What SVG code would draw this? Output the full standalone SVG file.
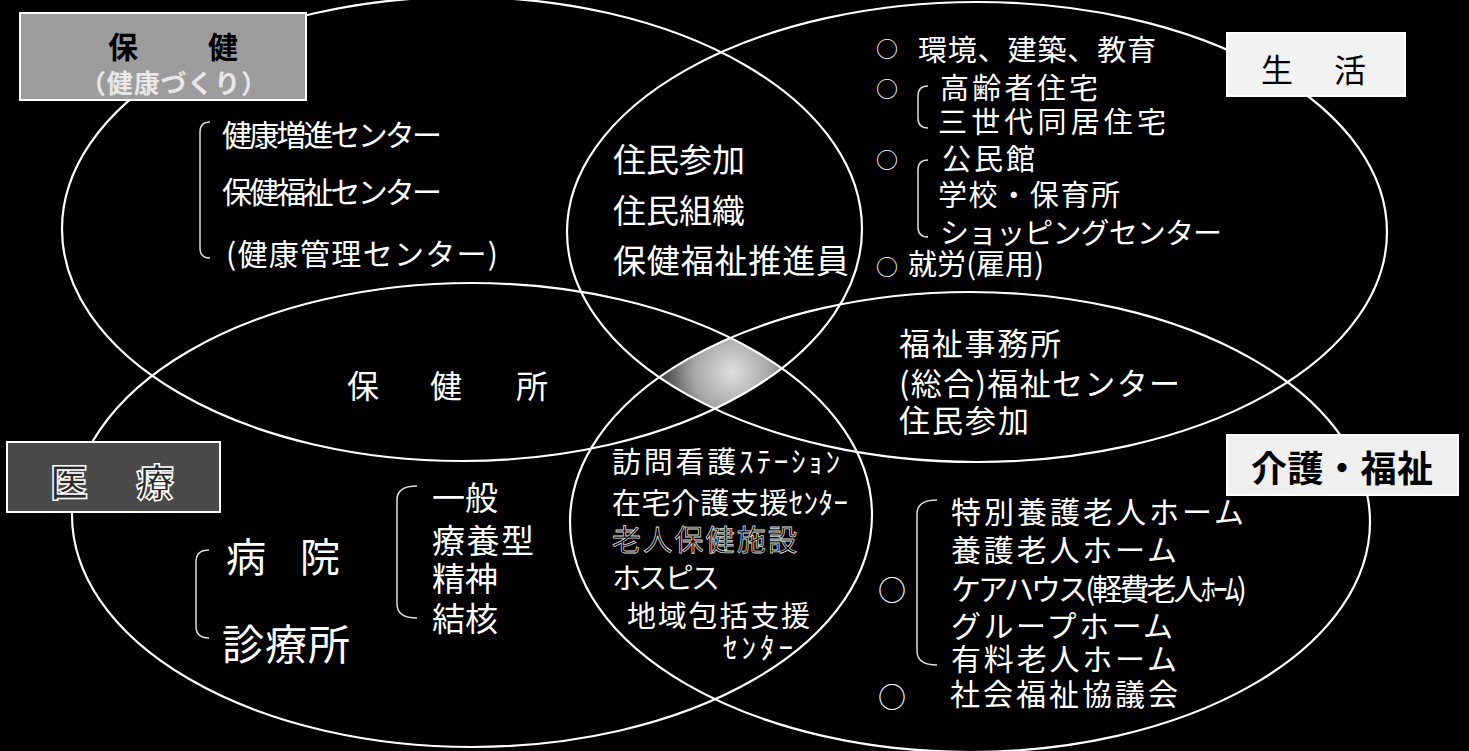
<svg xmlns="http://www.w3.org/2000/svg" width="1469" height="751" viewBox="0 0 1469 751">
<style>
.t{fill:#fff;font-family:"Noto Sans CJK JP","Noto Sans CJK SC",sans-serif;}
.e{fill:none;stroke:#fff;stroke-width:2.2;}
.br{fill:none;stroke:#ddd;stroke-width:1.5;}
.lab{font-family:"Noto Sans CJK JP","Noto Sans CJK SC",sans-serif;}
</style>
<defs>
<clipPath id="cA"><ellipse cx="462" cy="229" rx="400" ry="232"/></clipPath>
<clipPath id="cB"><ellipse cx="977" cy="232" rx="410" ry="230"/></clipPath>
<clipPath id="cC"><ellipse cx="472" cy="515" rx="400" ry="232"/></clipPath>
<clipPath id="cD"><ellipse cx="970" cy="522" rx="400" ry="230"/></clipPath>
<radialGradient id="dg" gradientUnits="userSpaceOnUse" cx="732" cy="372" r="66">
<stop offset="0" stop-color="#e0e0e0"/><stop offset="0.6" stop-color="#a4a4a4"/><stop offset="1" stop-color="#505050"/>
</radialGradient>
</defs>
<rect x="0" y="0" width="1469" height="751" fill="#000"/>

<g id="center-diamond" clip-path="url(#cA)"><g clip-path="url(#cB)"><g clip-path="url(#cC)"><rect clip-path="url(#cD)" x="630" y="310" width="190" height="120" fill="url(#dg)"/></g></g></g>

<g id="connectors">
<ellipse class="e" cx="462" cy="229" rx="400" ry="232"/>
<ellipse class="e" cx="977" cy="232" rx="410" ry="230"/>
<ellipse class="e" cx="472" cy="515" rx="400" ry="232"/>
<ellipse class="e" cx="970" cy="522" rx="400" ry="230"/>
</g>

<g id="label-hoken">
<rect x="20" y="13" width="286" height="87" fill="#9c9c9c" stroke="#fff" stroke-width="2"/>
<text class="lab" x="108" y="58" font-size="30" font-weight="bold" fill="#000">保</text>
<text class="lab" x="208" y="58" font-size="30" font-weight="bold" fill="#000">健</text>
<text class="lab" x="80" y="93" font-size="26" font-weight="bold" fill="#e8e8e8" textLength="187">（健康づくり）</text>
</g>

<g id="label-seikatsu">
<rect x="1227" y="33" width="178" height="63" fill="#f2f2f2" stroke="#fff" stroke-width="2"/>
<text class="lab" x="1261" y="82" font-size="32" fill="#000">生</text>
<text class="lab" x="1334" y="82" font-size="32" fill="#000">活</text>
</g>

<g id="label-iryo">
<rect x="7" y="442" width="213" height="70" fill="#4a4a4a" stroke="#fff" stroke-width="2"/>
<text class="lab" x="50" y="496" font-size="38" font-weight="bold" fill="#2a2a2a" stroke="#fff" stroke-width="1.5">医</text>
<text class="lab" x="136" y="496" font-size="38" font-weight="bold" fill="#2a2a2a" stroke="#fff" stroke-width="1.5">療</text>
</g>

<g id="label-kaigo">
<rect x="1227" y="435" width="231" height="60" fill="#efefef" stroke="#fff" stroke-width="2"/>
<text class="lab" x="1251" y="482" font-size="36" font-weight="bold" fill="#000" textLength="182">介護・福祉</text>
</g>

<g id="node-hoken">
<path class="br" d="M210 122 Q200 122 200 132 L200 248 Q200 258 210 258"/>
<text class="t" x="222" y="146" font-size="30" textLength="220">健康増進センター</text>
<text class="t" x="222" y="203" font-size="30" textLength="220">保健福祉センター</text>
<text class="t" x="226" y="265" font-size="30" textLength="272">(健康管理センター)</text>
</g>

<g id="node-hoken-seikatsu">
<text class="t" x="613" y="172" font-size="33" textLength="132">住民参加</text>
<text class="t" x="613" y="223" font-size="33" textLength="132">住民組織</text>
<text class="t" x="613" y="273" font-size="33" textLength="236">保健福祉推進員</text>
</g>

<g id="node-seikatsu">
<text class="t" x="876" y="57" font-size="22">○</text>
<text class="t" x="918" y="61" font-size="29" textLength="238">環境、建築、教育</text>
<text class="t" x="876" y="97" font-size="22">○</text>
<path class="br" d="M928 86 Q918 86 918 96 L918 118 Q918 128 928 128"/>
<text class="t" x="940" y="99" font-size="29" textLength="158">高齢者住宅</text>
<text class="t" x="938" y="133" font-size="29" textLength="228">三世代同居住宅</text>
<text class="t" x="876" y="168" font-size="22">○</text>
<path class="br" d="M928 160 Q918 160 918 170 L918 227 Q918 237 928 237"/>
<text class="t" x="942" y="170" font-size="29" textLength="93">公民館</text>
<text class="t" x="938" y="206" font-size="29" textLength="182">学校・保育所</text>
<text class="t" x="940" y="244" font-size="29" textLength="282">ショッピングセンター</text>
<text class="t" x="876" y="275" font-size="22">○</text>
<text class="t" x="908" y="275" font-size="29" textLength="136">就労(雇用)</text>
</g>

<g id="node-hokensho">
<text class="t" x="347" y="398" font-size="32">保</text>
<text class="t" x="430" y="398" font-size="32">健</text>
<text class="t" x="516" y="398" font-size="32">所</text>
</g>

<g id="node-seikatsu-kaigo">
<text class="t" x="899" y="355" font-size="31" textLength="162">福祉事務所</text>
<text class="t" x="899" y="395" font-size="31" textLength="281">(総合)福祉センター</text>
<text class="t" x="899" y="432" font-size="31" textLength="130">住民参加</text>
</g>

<g id="node-iryo-kaigo">
<text class="t" x="612" y="473" font-size="29" textLength="228">訪問看護ｽﾃｰｼｮﾝ</text>
<text class="t" x="612" y="514" font-size="29" textLength="236">在宅介護支援ｾﾝﾀｰ</text>
<text x="612" y="551" font-size="29" textLength="185" class="lab" fill="#000" stroke="#dcdcdc" stroke-width="0.8">老人保健施設</text>
<text class="t" x="612" y="589" font-size="29" textLength="108">ホスピス</text>
<text class="t" x="627" y="627" font-size="29" textLength="183">地域包括支援</text>
<text class="t" x="723" y="659" font-size="29" textLength="70">ｾﾝﾀｰ</text>
</g>

<g id="node-iryo">
<path class="br" d="M209 550 Q196 550 196 562 L196 626 Q196 638 209 638"/>
<text class="t" x="226" y="572" font-size="40">病</text>
<text class="t" x="300" y="572" font-size="40">院</text>
<text class="t" x="222" y="660" font-size="42" textLength="128">診療所</text>
<path class="br" d="M417 486 Q397 486 397 500 L397 604 Q397 618 417 618"/>
<text class="t" x="432" y="510" font-size="33" textLength="66">一般</text>
<text class="t" x="432" y="553" font-size="33" textLength="102">療養型</text>
<text class="t" x="432" y="591" font-size="33" textLength="66">精神</text>
<text class="t" x="432" y="631" font-size="33" textLength="66">結核</text>
</g>

<g id="node-kaigo">
<path class="br" d="M937 500 Q917 500 917 514 L917 651 Q917 665 937 665"/>
<text class="t" x="878" y="601" font-size="28">○</text>
<text class="t" x="951" y="523" font-size="30" textLength="293">特別養護老人ホーム</text>
<text class="t" x="951" y="561" font-size="30" textLength="226">養護老人ホーム</text>
<text class="t" x="951" y="600" font-size="30" textLength="296">ケアハウス(軽費老人ﾎｰﾑ)</text>
<text class="t" x="951" y="637" font-size="30" textLength="222">グループホーム</text>
<text class="t" x="951" y="670" font-size="30" textLength="226">有料老人ホーム</text>
<text class="t" x="878" y="708" font-size="28">○</text>
<text class="t" x="950" y="705" font-size="30" textLength="228">社会福祉協議会</text>
</g>
</svg>
